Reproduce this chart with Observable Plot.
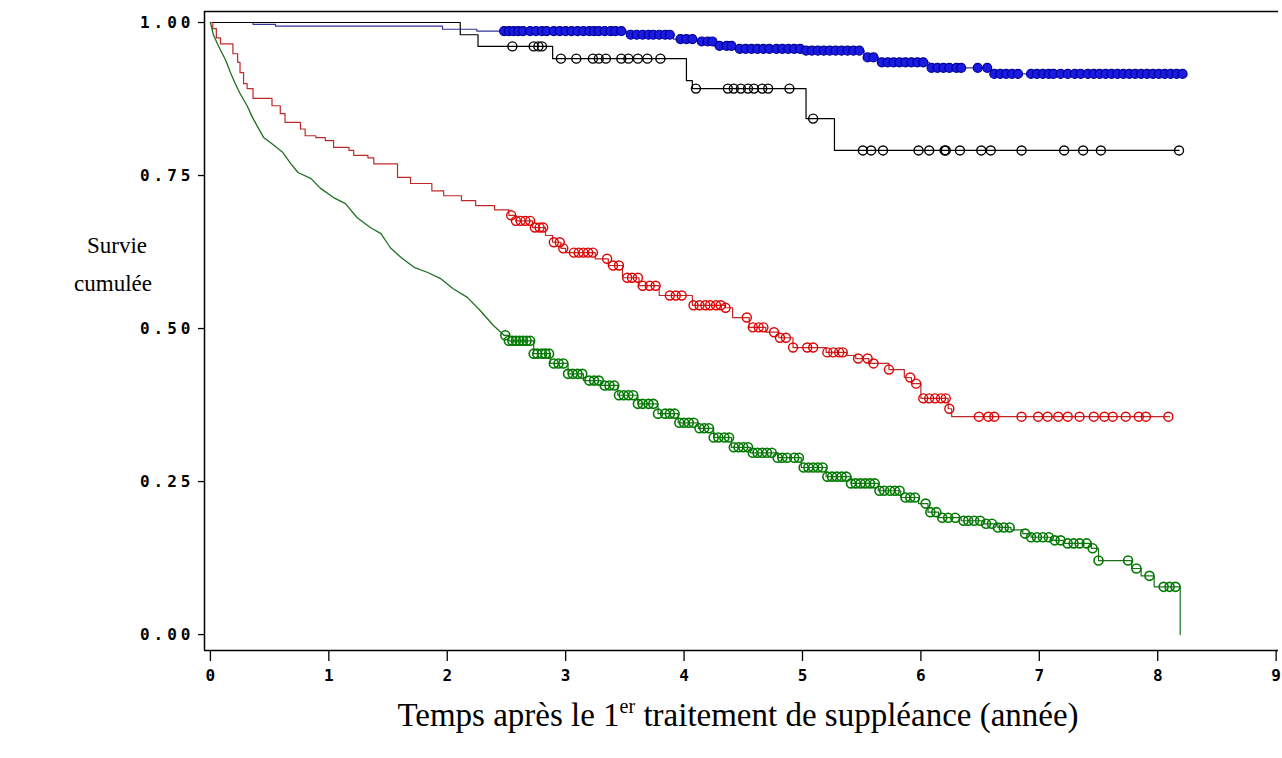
<!DOCTYPE html>
<html>
<head>
<meta charset="utf-8">
<script src="https://cdn.jsdelivr.net/npm/d3@7"></script>
<script src="https://cdn.jsdelivr.net/npm/@observablehq/plot@0.6"></script>
<style>
  html, body { margin: 0; padding: 0; background: white; }
  svg { display: block; }
  g[aria-label="y-axis tick label"] text { letter-spacing: 4px; }
</style>
</head>
<body>
<div id="chart"></div>
<script>
// ---- Data ----
const xTicks = [0, 1, 2, 3, 4, 5, 6, 7, 8, 9];
const yTicks = [0, 0.25, 0.5, 0.75, 1];

// Kaplan–Meier step curves: time (years) and cumulative survival
const blueT = [0, 0.36, 0.55, 1.96, 2.25, 3.52, 3.91, 4.12, 4.25, 4.42, 5.0, 5.52, 5.64, 6.07, 6.59, 8.22];
const blueS = [1, 0.997, 0.994, 0.989, 0.986, 0.980, 0.973, 0.969, 0.962, 0.957, 0.954, 0.943, 0.935, 0.926, 0.916, 0.916];

const blackT = [0, 2.11, 2.26, 2.89, 4.02, 4.07, 5.03, 5.27, 8.18];
const blackS = [1, 0.98, 0.961, 0.941, 0.905, 0.892, 0.843, 0.791, 0.791];

const redT = [0, 0.02, 0.05, 0.085, 0.19, 0.23, 0.25, 0.28, 0.31, 0.36, 0.52, 0.59, 0.63, 0.76, 0.80, 0.89, 0.97, 1.04, 1.17, 1.21, 1.33, 1.38, 1.58, 1.69, 1.87, 1.97, 2.12, 2.24, 2.40, 2.52, 2.58, 2.72, 2.83, 2.89, 2.96, 3.00, 3.25, 3.36, 3.48, 3.62, 3.79, 4.07, 4.35, 4.41, 4.55, 4.69, 4.80, 4.92, 5.20, 5.37, 5.45, 5.56, 5.73, 5.86, 5.92, 6.00, 6.23, 6.26, 8.10];
const redS = [1, 0.99, 0.975, 0.965, 0.949, 0.935, 0.918, 0.90, 0.892, 0.876, 0.864, 0.851, 0.837, 0.826, 0.815, 0.812, 0.807, 0.796, 0.791, 0.783, 0.779, 0.769, 0.747, 0.737, 0.725, 0.717, 0.709, 0.701, 0.694, 0.685, 0.676, 0.665, 0.652, 0.641, 0.631, 0.624, 0.614, 0.603, 0.583, 0.570, 0.554, 0.538, 0.534, 0.518, 0.502, 0.494, 0.485, 0.469, 0.461, 0.456, 0.451, 0.443, 0.433, 0.420, 0.410, 0.386, 0.369, 0.356, 0.356];

// Green: early part (many tiny steps, traced as a jagged line) and later part (visible steps)
const greenEarlyT = [0, 0.025, 0.06, 0.085, 0.13, 0.17, 0.21, 0.25, 0.31, 0.355, 0.40, 0.45, 0.52, 0.61, 0.68, 0.74, 0.85, 0.93, 1.04, 1.14, 1.24, 1.35, 1.44, 1.52, 1.61, 1.72, 1.83, 1.94, 2.05, 2.17, 2.28, 2.39, 2.48];
const greenEarlyS = [1, 0.98, 0.965, 0.955, 0.938, 0.918, 0.90, 0.884, 0.864, 0.845, 0.829, 0.812, 0.802, 0.788, 0.769, 0.755, 0.745, 0.729, 0.714, 0.704, 0.681, 0.665, 0.655, 0.632, 0.616, 0.600, 0.592, 0.582, 0.565, 0.551, 0.529, 0.505, 0.489];
const greenLateT = [2.48, 2.52, 2.73, 2.87, 3.02, 3.15, 3.30, 3.44, 3.61, 3.78, 3.95, 4.12, 4.25, 4.40, 4.56, 4.79, 4.99, 5.20, 5.41, 5.64, 5.83, 5.98, 6.06, 6.15, 6.34, 6.53, 6.65, 6.76, 6.86, 6.93, 7.10, 7.21, 7.44, 7.50, 7.78, 7.86, 7.97, 8.19];
const greenLateS = [0.489, 0.480, 0.459, 0.443, 0.426, 0.415, 0.407, 0.391, 0.377, 0.361, 0.346, 0.337, 0.322, 0.306, 0.297, 0.289, 0.273, 0.258, 0.247, 0.235, 0.224, 0.214, 0.200, 0.191, 0.186, 0.181, 0.175, 0.171, 0.165, 0.159, 0.154, 0.149, 0.141, 0.121, 0.108, 0.096, 0.078, 0];

// Censoring times (circles)
const blueCens = [2.48, 2.52, 2.56, 2.60, 2.64, 2.70, 2.75, 2.80, 2.84, 2.90, 2.95, 3.00, 3.05, 3.10, 3.15, 3.20, 3.24, 3.28, 3.33, 3.38, 3.42, 3.47, 3.55, 3.60, 3.65, 3.70, 3.74, 3.79, 3.84, 3.88, 3.97, 4.02, 4.07, 4.15, 4.20, 4.24, 4.30, 4.36, 4.40, 4.47, 4.52, 4.57, 4.62, 4.67, 4.72, 4.78, 4.83, 4.88, 4.93, 4.98, 5.03, 5.08, 5.13, 5.18, 5.23, 5.28, 5.33, 5.38, 5.43, 5.48, 5.55, 5.60, 5.67, 5.72, 5.77, 5.82, 5.87, 5.92, 5.97, 6.02, 6.09, 6.14, 6.19, 6.24, 6.30, 6.34, 6.48, 6.56, 6.62, 6.67, 6.72, 6.77, 6.82, 6.93, 6.98, 7.03, 7.08, 7.12, 7.18, 7.24, 7.30, 7.35, 7.41, 7.46, 7.51, 7.56, 7.61, 7.66, 7.71, 7.76, 7.81, 7.86, 7.91, 7.96, 8.01, 8.06, 8.11, 8.16, 8.21];
const blackCens = [2.55, 2.73, 2.77, 2.80, 2.96, 3.09, 3.23, 3.28, 3.34, 3.47, 3.53, 3.61, 3.69, 3.80, 4.10, 4.37, 4.42, 4.48, 4.54, 4.59, 4.66, 4.71, 4.89, 5.09, 5.51, 5.58, 5.68, 5.98, 6.07, 6.20, 6.21, 6.33, 6.51, 6.59, 6.85, 7.21, 7.37, 7.52, 8.18];
const redCens = [2.54, 2.58, 2.62, 2.66, 2.70, 2.74, 2.78, 2.81, 2.90, 2.95, 2.98, 3.07, 3.11, 3.15, 3.19, 3.23, 3.35, 3.40, 3.45, 3.52, 3.56, 3.61, 3.65, 3.71, 3.76, 3.88, 3.93, 3.98, 4.08, 4.13, 4.18, 4.22, 4.27, 4.31, 4.35, 4.53, 4.58, 4.63, 4.67, 4.76, 4.81, 4.86, 4.92, 5.04, 5.09, 5.21, 5.26, 5.31, 5.34, 5.47, 5.55, 5.60, 5.73, 5.91, 5.96, 6.02, 6.07, 6.12, 6.17, 6.21, 6.24, 6.49, 6.57, 6.62, 6.85, 6.99, 7.07, 7.16, 7.24, 7.34, 7.46, 7.55, 7.62, 7.73, 7.84, 7.90, 8.09];
const greenCens = [2.49, 2.52, 2.55, 2.58, 2.61, 2.64, 2.67, 2.70, 2.73, 2.76, 2.80, 2.83, 2.86, 2.90, 2.94, 2.98, 3.02, 3.06, 3.10, 3.14, 3.20, 3.24, 3.28, 3.33, 3.37, 3.41, 3.45, 3.49, 3.53, 3.57, 3.61, 3.65, 3.70, 3.74, 3.78, 3.84, 3.88, 3.92, 3.96, 4.00, 4.04, 4.08, 4.13, 4.17, 4.21, 4.25, 4.29, 4.34, 4.38, 4.42, 4.46, 4.50, 4.54, 4.58, 4.62, 4.66, 4.70, 4.74, 4.79, 4.83, 4.87, 4.93, 4.97, 5.01, 5.05, 5.09, 5.13, 5.17, 5.21, 5.25, 5.29, 5.33, 5.37, 5.41, 5.45, 5.49, 5.53, 5.57, 5.61, 5.65, 5.69, 5.74, 5.78, 5.82, 5.87, 5.91, 5.95, 6.04, 6.08, 6.13, 6.18, 6.23, 6.29, 6.36, 6.40, 6.45, 6.50, 6.55, 6.60, 6.65, 6.70, 6.75, 6.88, 6.93, 6.98, 7.03, 7.08, 7.13, 7.18, 7.24, 7.29, 7.34, 7.40, 7.45, 7.50, 7.75, 7.82, 7.93, 8.05, 8.10, 8.15];

// ---- Build tables ----
const curve = (T, S) => T.map((t, i) => ({t, s: S[i]}));
const survAt = (T, S, t) => { let v = S[0]; for (let i = 0; i < T.length; i++) if (T[i] <= t) v = S[i]; return v; };
const cens = (C, T, S) => C.map(t => ({t, s: survAt(T, S, t)}));

const marks = [
  Plot.axisX({ticks: xTicks, tickSize: 11, tickPadding: 8, tickFormat: d => String(d), label: null, strokeWidth: 1.3}),
  Plot.axisY({ticks: yTicks, tickSize: 6, tickPadding: 4, tickFormat: d3.format(".2f"), label: null, strokeWidth: 1.3}),
  Plot.ruleX([-0.05], {stroke: "#000", strokeWidth: 1.5}),
  Plot.ruleY([-0.026], {stroke: "#000", strokeWidth: 1.5}),
  Plot.ruleY([1.018], {stroke: "#000", strokeWidth: 1.5}),
  // lines
  Plot.line(curve(blueT, blueS), {x: "t", y: "s", curve: "step-after", stroke: "#33339a", strokeWidth: 1.2}),
  Plot.line(curve(blackT, blackS), {x: "t", y: "s", curve: "step-after", stroke: "#000", strokeWidth: 1.2}),
  Plot.line(curve(redT, redS), {x: "t", y: "s", curve: "step-after", stroke: "#c02828", strokeWidth: 1.2}),
  Plot.line(curve(greenEarlyT, greenEarlyS), {x: "t", y: "s", curve: "linear", stroke: "#1f6f1f", strokeWidth: 1.3}),
  Plot.line(curve(greenLateT, greenLateS), {x: "t", y: "s", curve: "step-after", stroke: "#1f6f1f", strokeWidth: 1.2}),
  // censor marks
  Plot.dot(cens(blueCens, blueT, blueS), {x: "t", y: "s", r: 4.5, stroke: "#000099", fill: "#1a1ae0", strokeWidth: 1.2}),
  Plot.dot(cens(blackCens, blackT, blackS), {x: "t", y: "s", r: 4.5, stroke: "#000", fill: "none", strokeWidth: 1.4}),
  Plot.dot(cens(redCens, redT, redS), {x: "t", y: "s", r: 4.5, stroke: "#e00000", fill: "none", strokeWidth: 1.4}),
  Plot.dot(cens(greenCens, greenLateT, greenLateS), {x: "t", y: "s", r: 4.5, stroke: "#007a00", fill: "none", strokeWidth: 1.6})
];

const chart = Plot.plot({
  width: 1282,
  height: 758,
  marginLeft: 204,
  marginRight: 4,
  marginTop: 11,
  marginBottom: 108,
  x: {domain: [-0.05, 9.02]},
  y: {domain: [-0.026, 1.018]},
  style: {fontFamily: "'DejaVu Sans Mono', monospace", fontSize: "16px", fontWeight: "bold", background: "white", color: "black"},
  marks
});

const svg = d3.select(chart);
const serif = "'Liberation Serif', 'Times New Roman', serif";
svg.append("text").attr("x", 117).attr("y", 253).attr("text-anchor", "middle")
  .attr("font-family", serif).attr("font-size", 23).attr("font-weight", "normal").text("Survie");
svg.append("text").attr("x", 113).attr("y", 291).attr("text-anchor", "middle")
  .attr("font-family", serif).attr("font-size", 23).attr("font-weight", "normal").text("cumulée");
const xt = svg.append("text").attr("x", 738).attr("y", 726).attr("text-anchor", "middle")
  .attr("font-family", serif).attr("font-size", 33).attr("font-weight", "normal");
xt.append("tspan").text("Temps après le 1");
xt.append("tspan").attr("dy", -13).attr("font-size", 20).text("er");
xt.append("tspan").attr("dy", 13).text(" traitement de suppléance (année)");

document.getElementById("chart").appendChild(chart);
</script>
</body>
</html>
